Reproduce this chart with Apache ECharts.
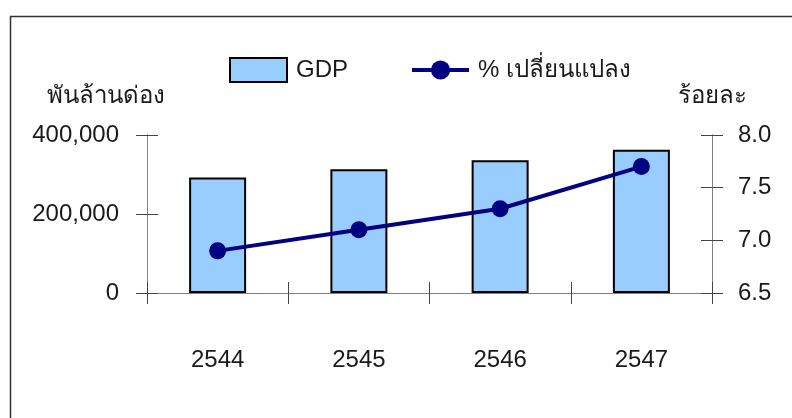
<!DOCTYPE html>
<html>
<head>
<meta charset="utf-8">
<script src="https://cdn.jsdelivr.net/npm/echarts@6/dist/echarts.min.js"></script>
<style>
html,body{margin:0;padding:0;background:#fff;}
#c{width:792px;height:418px;}
</style>
</head>
<body>
<div id="c"></div>
<script>
const categories = ['2544', '2545', '2546', '2547'];
const gdpValues = [292535, 313247, 336242, 362435];
const growthValues = [6.9, 7.1, 7.3, 7.7];
const leftTicks = [0, 200000, 400000];
const rightTicks = [6.5, 7.0, 7.5, 8.0];
const seriesNames = ['GDP', '% เปลี่ยนแปลง'];
const leftAxisName = 'พันล้านด่อง';
const rightAxisName = 'ร้อยละ';

const FONT = '"Liberation Sans", Arial, sans-serif';
const TXT = '#1a1a1a';
const AXIS = '#808080';
const TICK = '#444';

const chart = echarts.init(document.getElementById('c'), null, {renderer: 'canvas'});

function yBase(pos, min, max, interval, fmt, inside, showLabel) {
  return {
    type: 'value', position: pos, min: min, max: max, interval: interval,
    axisLine: {show: true, lineStyle: {color: AXIS, width: 1}},
    axisTick: {show: true, inside: inside, length: 11, lineStyle: {color: TICK, width: 1}},
    splitLine: {show: false},
    axisLabel: {show: showLabel, color: TXT, fontFamily: FONT, fontSize: 24, margin: pos === 'left' ? 28 : 26, formatter: fmt}
  };
}

const fmtLeft = v => v.toLocaleString('en-US');
const fmtRight = v => v.toFixed(1);

chart.setOption({
  animation: false,
  backgroundColor: '#fff',
  grid: {left: 147, right: 80, top: 135, bottom: 125, containLabel: false},
  legend: {
    left: 229, top: 57, padding: 0,
    itemWidth: 57, itemHeight: 24, itemGap: 62,
    textStyle: {color: TXT, fontFamily: FONT, fontSize: 24, padding: [0, 0, 0, 4]},
    data: [
      {name: seriesNames[0], icon: 'rect', itemStyle: {color: '#99CCFF', borderColor: '#000', borderWidth: 2}},
      {name: seriesNames[1], lineStyle: {color: '#000080', width: 4}, itemStyle: {color: '#000080'}}
    ]
  },
  xAxis: [
    {
      type: 'category', data: categories, position: 'bottom', boundaryGap: true,
      axisLine: {show: true, lineStyle: {color: AXIS, width: 1}},
      axisTick: {show: true, inside: false, length: 11, lineStyle: {color: TICK}},
      axisLabel: {color: TXT, fontFamily: FONT, fontSize: 24, margin: 55}
    },
    {
      type: 'category', data: categories, position: 'bottom', boundaryGap: true,
      axisLine: {show: false},
      axisTick: {show: true, inside: true, length: 11, lineStyle: {color: TICK}},
      axisLabel: {show: false}
    }
  ],
  yAxis: [
    yBase('left', leftTicks[0], leftTicks[leftTicks.length - 1], leftTicks[1] - leftTicks[0], fmtLeft, false, true),
    yBase('right', rightTicks[0], rightTicks[rightTicks.length - 1], 0.5, fmtRight, false, true),
    yBase('left', leftTicks[0], leftTicks[leftTicks.length - 1], leftTicks[1] - leftTicks[0], fmtLeft, true, false),
    yBase('right', rightTicks[0], rightTicks[rightTicks.length - 1], 0.5, fmtRight, true, false)
  ],
  series: [
    {
      name: seriesNames[0], type: 'bar', xAxisIndex: 0, yAxisIndex: 0,
      data: gdpValues, barWidth: 57,
      itemStyle: {color: '#99CCFF', borderColor: '#000', borderWidth: 2}
    },
    {
      name: seriesNames[1], type: 'line', xAxisIndex: 0, yAxisIndex: 1,
      data: growthValues, symbol: 'circle', symbolSize: 17,
      lineStyle: {color: '#000080', width: 4},
      itemStyle: {color: '#000080'}
    }
  ],
  graphic: [
    {type: 'rect', left: 8, top: 14, shape: {x: 0, y: 0, width: 800, height: 420},
     style: {fill: 'none', stroke: '#333', lineWidth: 1.5}, silent: true, z: 0},
    {type: 'text', left: 47, top: 84, style: {text: leftAxisName, fill: TXT, font: '24px ' + FONT}},
    {type: 'text', left: 678, top: 84, style: {text: rightAxisName, fill: TXT, font: '24px ' + FONT}}
  ]
});
</script>
</body>
</html>
